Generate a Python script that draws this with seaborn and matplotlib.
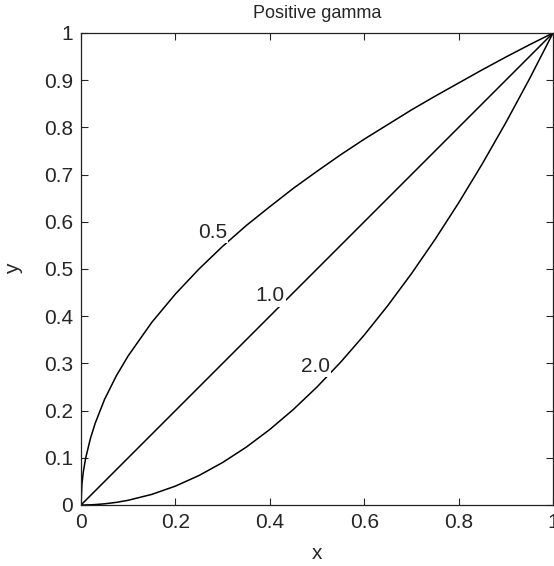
import matplotlib
matplotlib.use("Agg")
import matplotlib.pyplot as plt
import seaborn as sns
import pandas as pd

# Sampled intensity transfer curves, one per gamma value
x_vals = [0.0, 0.002, 0.005, 0.01, 0.02, 0.03, 0.05, 0.075, 0.1, 0.15, 0.2, 0.25,
          0.3, 0.35, 0.4, 0.45, 0.5, 0.55, 0.6, 0.65, 0.7, 0.75, 0.8, 0.85,
          0.9, 0.95, 1.0]
y_gamma_05 = [0.0, 0.045, 0.071, 0.10, 0.141, 0.173, 0.224, 0.274, 0.316, 0.387,
              0.447, 0.50, 0.548, 0.592, 0.632, 0.671, 0.707, 0.742, 0.775,
              0.806, 0.837, 0.866, 0.894, 0.922, 0.949, 0.975, 1.0]
y_gamma_10 = [0.0, 0.002, 0.005, 0.01, 0.02, 0.03, 0.05, 0.075, 0.1, 0.15, 0.2,
              0.25, 0.3, 0.35, 0.4, 0.45, 0.5, 0.55, 0.6, 0.65, 0.7, 0.75, 0.8,
              0.85, 0.9, 0.95, 1.0]
y_gamma_20 = [0.0, 0.0, 0.0, 0.0001, 0.0004, 0.0009, 0.0025, 0.0056, 0.01, 0.0225,
              0.04, 0.0625, 0.09, 0.1225, 0.16, 0.2025, 0.25, 0.3025, 0.36,
              0.4225, 0.49, 0.5625, 0.64, 0.7225, 0.81, 0.9025, 1.0]
gamma_labels = ["0.5", "1.0", "2.0"]
label_x = [0.278, 0.400, 0.496]
label_y = [0.578, 0.443, 0.294]

x_ticks = [0, 0.2, 0.4, 0.6, 0.8, 1]
x_tick_labels = ["0", "0.2", "0.4", "0.6", "0.8", "1"]
y_ticks = [0, 0.1, 0.2, 0.3, 0.4, 0.5, 0.6, 0.7, 0.8, 0.9, 1]
y_tick_labels = ["0", "0.1", "0.2", "0.3", "0.4", "0.5", "0.6", "0.7", "0.8", "0.9", "1"]

sns.set_style("ticks")
plt.rcParams["font.family"] = ["Liberation Sans", "DejaVu Sans"]
plt.rcParams.update({
    "xtick.direction": "in",
    "ytick.direction": "in",
    "xtick.top": True,
    "ytick.right": True,
    "xtick.major.size": 5,
    "ytick.major.size": 5,
    "xtick.major.width": 0.8,
    "ytick.major.width": 0.8,
    "axes.linewidth": 0.9,
    "axes.edgecolor": "#222222",
})

frames = []
for lab, ys in zip(gamma_labels, [y_gamma_05, y_gamma_10, y_gamma_20]):
    frames.append(pd.DataFrame({"x": x_vals, "y": ys, "gamma": lab}))
df = pd.concat(frames, ignore_index=True)

fig = plt.figure(figsize=(5.54, 5.66), dpi=100)
ax = fig.add_axes([81 / 554, 1 - 505 / 566, 472 / 554, 472 / 566])

sns.lineplot(data=df, x="x", y="y", hue="gamma", palette=["black"] * 3,
             linewidth=1.1, legend=False, ax=ax, sort=False, estimator=None)

for lab, lx, ly in zip(gamma_labels, label_x, label_y):
    ax.text(lx, ly, lab, ha="center", va="center", fontsize=15,
            bbox=dict(facecolor="white", edgecolor="none", pad=1.0))

ax.set_xlim(0, 1)
ax.set_ylim(0, 1)
ax.set_xticks(x_ticks)
ax.set_xticklabels(x_tick_labels, fontsize=15)
ax.set_yticks(y_ticks)
ax.set_yticklabels(y_tick_labels, fontsize=15)
ax.tick_params(axis="both", pad=5.5)
ax.set_xlabel("x", fontsize=15, labelpad=9)
ax.set_ylabel("y", fontsize=15, labelpad=15)
ax.set_title("Positive gamma", fontsize=13, pad=11)
for s in ax.spines.values():
    s.set_visible(True)

fig.savefig("out.png", dpi=100)
